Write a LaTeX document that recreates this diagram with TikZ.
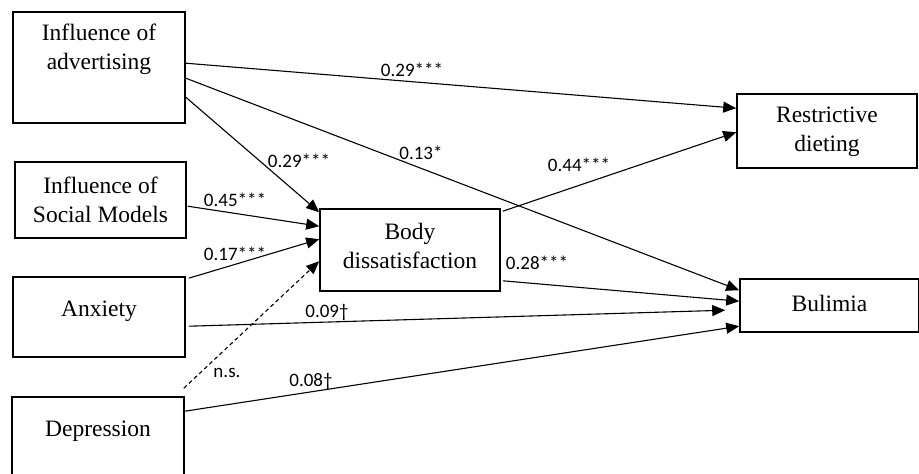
\documentclass[tikz,border=0pt]{standalone}
\usepackage{fontspec}
\setmainfont{Liberation Serif}
\newfontfamily\labfont{Carlito}
\usetikzlibrary{arrows.meta}
\begin{document}
\begin{tikzpicture}[x=1pt,y=-1pt,
  box/.style={draw,line width=1.6pt,inner sep=0pt},
  boxtext/.style={font=\fontsize{23.5}{29}\selectfont,align=center,inner sep=0pt},
  coef/.style={font=\labfont\fontsize{19}{22}\selectfont,inner sep=0pt},
  path/.style={line width=1.1pt,-{Triangle[length=13pt,width=11pt]}},
  weak/.style={path,dashed,dash pattern=on 4pt off 3pt}]
\useasboundingbox (0,0) rectangle (919,474);
\clip (0,0) rectangle (919,474);

% variable boxes
\node[box,minimum width=172pt,minimum height=111pt] (adv) at (99,67.5) {};
\node[box,minimum width=171pt,minimum height=76pt]  (soc) at (100.5,200) {};
\node[box,minimum width=172pt,minimum height=80pt]  (anx) at (99,317) {};
\node[box,minimum width=172pt,minimum height=90pt]  (dep) at (98,442) {};
\node[box,minimum width=180pt,minimum height=82pt]  (body) at (410,250) {};
\node[box,minimum width=180pt,minimum height=74pt]  (rd) at (827,131) {};
\node[box,minimum width=179pt,minimum height=53pt]  (bul) at (829.5,305.5) {};

% box captions
\node[boxtext] (advT)  at (99,49)   {Influence of\\advertising};
\node[boxtext] (socT)  at (100.5,200) {Influence of\\Social Models};
\node[boxtext] (anxT)  at (99,311)  {Anxiety};
\node[boxtext] (depT)  at (98,431)  {Depression};
\node[boxtext] (bodyT) at (410,246) {Body\\dissatisfaction};
\node[boxtext] (rdT)   at (827,132) {Restrictive\\dieting};
\node[boxtext] (bulT)  at (829.5,303) {Bulimia};

% paths
\draw[path] ([yshift=-52pt]adv.north east) -- ([yshift=-15pt]rd.north west);
\draw[path] ([yshift=-67pt]adv.north east) -- ([yshift=-12pt]bul.north west);
\draw[path] ([yshift=-86pt]adv.north east) -- ([yshift=-4pt]body.north west);
\draw[path] ([xshift=1pt,yshift=-45pt]soc.north east) -- ([yshift=-18pt]body.north west);
\draw[path] ([xshift=3pt,yshift=-2pt]anx.north east) -- ([yshift=-31pt]body.north west);
\draw[weak] ([xshift=-1pt,yshift=8pt]dep.north east) -- ([yshift=-53pt]body.north west);
\draw[path] ([xshift=3pt,yshift=-50pt]anx.north east) -- ([xshift=-14pt,yshift=-32pt]bul.north west);
\draw[path] ([yshift=-15pt]dep.north east) -- ([yshift=-48pt]bul.north west);
\draw[path] ([xshift=2pt,yshift=11pt]body.south east) -- ([yshift=-23pt]bul.north west);
\draw[path] ([xshift=2pt,yshift=-3pt]body.north east) -- ([yshift=-39pt]rd.north west);

% path coefficients
\node[coef] (c1)  at (412,70)  {0.29***};
\node[coef] (c2)  at (421,153) {0.13*};
\node[coef] (c3)  at (299,161) {0.29***};
\node[coef] (c4)  at (235,200) {0.45***};
\node[coef] (c5)  at (235,254) {0.17***};
\node[coef] (c6)  at (227,373) {n.s.};
\node[coef] (c7)  at (327,312) {0.09†};
\node[coef] (c8)  at (311,381) {0.08†};
\node[coef] (c9)  at (537,263) {0.28***};
\node[coef] (c10) at (579,165) {0.44***};
\end{tikzpicture}
\end{document}
